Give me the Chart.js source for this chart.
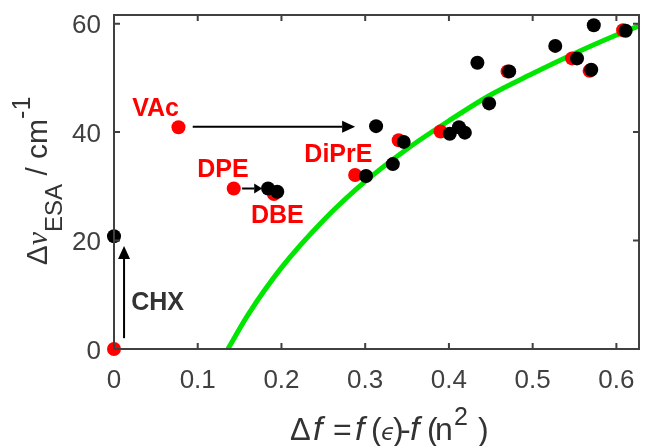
<!DOCTYPE html>
<html>
<head>
<meta charset="utf-8">
<script src="https://cdn.jsdelivr.net/npm/chart.js@4.4.1/dist/chart.umd.min.js"></script>
<style>
  html, body { margin: 0; padding: 0; background: #fff; }
</style>
</head>
<body>
<canvas id="chart" width="646" height="446"></canvas>
<script>
// --- data ---
const redX = [0, 0.077, 0.143, 0.191, 0.288, 0.340, 0.390, 0.470, 0.547, 0.568, 0.608];
const redY = [0, 40.9, 29.6, 28.6, 32.1, 38.5, 40.1, 51.2, 53.6, 51.3, 58.8];

const blackX = [0, 0.184, 0.195, 0.301, 0.313, 0.333, 0.346, 0.401, 0.412, 0.419, 0.434, 0.448, 0.472, 0.527, 0.553, 0.570, 0.573, 0.611];
const blackY = [20.8, 29.6, 29.0, 31.9, 41.1, 34.1, 38.2, 39.7, 40.9, 39.9, 52.8, 45.3, 51.2, 55.9, 53.6, 51.5, 59.7, 58.7];

// green fit curve
const curveX = [0.136, 0.16, 0.2, 0.25, 0.3, 0.35, 0.4, 0.45, 0.5, 0.55, 0.6, 0.627];
const curveY = [0, 6.3, 15.0, 23.7, 30.9, 36.9, 42.1, 46.9, 50.8, 54.5, 57.9, 59.6];

const xTicks = [0, 0.1, 0.2, 0.3, 0.4, 0.5, 0.6];
const yTicks = [0, 20, 40, 60];

// arrows (from -> to)
const arrowX0 = [0.012, 0.094, 0.153];
const arrowY0 = [2.0, 41.0, 29.6];
const arrowX1 = [0.012, 0.288, 0.177];
const arrowY1 = [19.0, 41.0, 29.6];

// text labels
const labelText = ['VAc', 'DPE', 'DBE', 'DiPrE', 'CHX'];
const labelX = [0.0496, 0.130, 0.195, 0.268, 0.052];
const labelY = [44.6, 33.4, 24.9, 36.2, 8.85];
const labelColor = ['#ff0000', '#ff0000', '#ff0000', '#ff0000', '#333333'];

const toPts = (xs, ys) => xs.map((x, i) => ({ x: x, y: ys[i] }));

const SANS = '"Liberation Sans", Arial, sans-serif';
const axisColor = '#404040';

// draws a line of text made of several font pieces, centred on (x, y).
// a piece may carry its own ink offset (at) from the line start
function drawRich(ctx, segs, x, y, rot, width) {
  ctx.save();
  ctx.translate(x, y);
  if (rot) ctx.rotate(rot);
  let total = 0;
  segs.forEach(s => { ctx.font = s.f; s.m = ctx.measureText(s.t); s.w = s.m.width; total += s.w; });
  if (width) total = width;
  let cx = -total / 2;
  ctx.textAlign = 'left';
  ctx.textBaseline = 'alphabetic';
  ctx.fillStyle = '#333';
  segs.forEach(s => {
    ctx.font = s.f;
    if (s.at !== undefined) {
      ctx.fillText(s.t, -total / 2 + s.at + s.m.actualBoundingBoxLeft, s.dy || 0);
    } else {
      ctx.fillText(s.t, cx, s.dy || 0);
      cx += s.w;
    }
  });
  ctx.restore();
}

function arrow(ctx, x0, y0, x1, y1, len, half) {
  const a = Math.atan2(y1 - y0, x1 - x0);
  const bx = x1 - len * Math.cos(a), by = y1 - len * Math.sin(a);
  ctx.beginPath();
  ctx.moveTo(x0, y0);
  ctx.lineTo(bx, by);
  ctx.stroke();
  ctx.beginPath();
  ctx.moveTo(x1, y1);
  ctx.lineTo(bx + half * Math.sin(a), by - half * Math.cos(a));
  ctx.lineTo(bx - half * Math.sin(a), by + half * Math.cos(a));
  ctx.closePath();
  ctx.fill();
}

const decor = {
  id: 'decor',
  afterDraw(chart) {
    const ctx = chart.ctx;
    const a = chart.chartArea;
    const xs = chart.scales.x, ys = chart.scales.y;

    // box with inward ticks
    ctx.save();
    ctx.strokeStyle = axisColor;
    ctx.lineWidth = 2;
    ctx.strokeRect(a.left, a.top, a.right - a.left, a.bottom - a.top);
    ctx.beginPath();
    xTicks.forEach(v => {
      const p = xs.getPixelForValue(v);
      ctx.moveTo(p, a.bottom); ctx.lineTo(p, a.bottom - 6);
      ctx.moveTo(p, a.top); ctx.lineTo(p, a.top + 6);
    });
    yTicks.forEach(v => {
      const p = ys.getPixelForValue(v);
      ctx.moveTo(a.left, p); ctx.lineTo(a.left + 6, p);
      ctx.moveTo(a.right, p); ctx.lineTo(a.right - 6, p);
    });
    ctx.stroke();

    // tick labels
    ctx.fillStyle = axisColor;
    ctx.font = '26px ' + SANS;
    ctx.textBaseline = 'alphabetic';
    ctx.textAlign = 'center';
    xTicks.forEach(v => ctx.fillText(String(v), xs.getPixelForValue(v), a.bottom + 39));
    ctx.textAlign = 'right';
    yTicks.forEach(v => ctx.fillText(String(v), a.left - 13, ys.getPixelForValue(v) + 9.5));
    ctx.restore();

    // arrows
    ctx.save();
    ctx.strokeStyle = '#000';
    ctx.fillStyle = '#000';
    ctx.lineWidth = 2;
    arrowX0.forEach((x0, i) => {
      const px0 = xs.getPixelForValue(x0), py0 = ys.getPixelForValue(arrowY0[i]);
      const px1 = xs.getPixelForValue(arrowX1[i]), py1 = ys.getPixelForValue(arrowY1[i]);
      const big = Math.hypot(px1 - px0, py1 - py0) > 40;
      arrow(ctx, px0, py0, px1, py1, big ? 13 : 8, big ? 6 : 5);
    });
    ctx.restore();

    // labels
    ctx.save();
    ctx.font = 'bold 25px ' + SANS;
    ctx.textAlign = 'center';
    ctx.textBaseline = 'alphabetic';
    labelText.forEach((t, i) => {
      ctx.fillStyle = labelColor[i];
      ctx.fillText(t, xs.getPixelForValue(labelX[i]), ys.getPixelForValue(labelY[i]) + 9);
    });
    ctx.restore();

    // axis titles
    const n32 = '32px ' + SANS, i34 = 'italic 34px ' + SANS;
    drawRich(ctx, [
      { t: 'Δ', f: '31px ' + SANS, at: 0 }, { t: 'f', f: i34, at: 24 },
      { t: '=', f: n32, at: 44 }, { t: 'f', f: i34, at: 66 },
      { t: '(', f: n32, at: 82 }, { t: 'ϵ', f: 'italic 23px "DejaVu Sans"', at: 91 },
      { t: ')', f: n32, at: 103 }, { t: '-', f: n32, at: 111 },
      { t: 'f', f: i34, at: 121 }, { t: '(', f: n32, at: 138 },
      { t: 'n', f: n32, at: 147 }, { t: '2', f: '25px ' + SANS, at: 165, dy: -15 },
      { t: ')', f: n32, at: 188 }
    ], 391, 440, 0, 202);

    const n30 = '30px ' + SANS;
    drawRich(ctx, [
      { t: 'Δ', f: n30 }, { t: 'ν', f: 'italic 30px "Liberation Serif"' },
      { t: 'ESA', f: '24px ' + SANS, dy: 15 }, { t: ' / cm', f: n30 },
      { t: '-1', f: '25px ' + SANS, dy: -17 }
    ], 47, 181, -Math.PI / 2);
  }
};

new Chart(document.getElementById('chart'), {
  type: 'scatter',
  data: {
    datasets: [
      {
        data: toPts(blackX, blackY),
        backgroundColor: '#000', borderWidth: 0, pointRadius: 7, clip: false, order: 0
      },
      {
        data: toPts(redX, redY),
        backgroundColor: '#ff0000', borderWidth: 0, pointRadius: 7, clip: false, order: 1
      },
      {
        data: toPts(curveX, curveY),
        showLine: true, borderColor: '#00e600', borderWidth: 5, pointRadius: 0,
        cubicInterpolationMode: 'monotone', order: 2
      }
    ]
  },
  options: {
    responsive: false,
    animation: false,
    layout: { padding: { top: 15, right: 1, left: 114, bottom: 97 } },
    plugins: { legend: { display: false }, tooltip: { enabled: false } },
    scales: {
      x: { type: 'linear', display: false, min: 0, max: 0.627 },
      y: { type: 'linear', display: false, min: 0, max: 61.6 }
    }
  },
  plugins: [decor]
});
</script>
</body>
</html>
